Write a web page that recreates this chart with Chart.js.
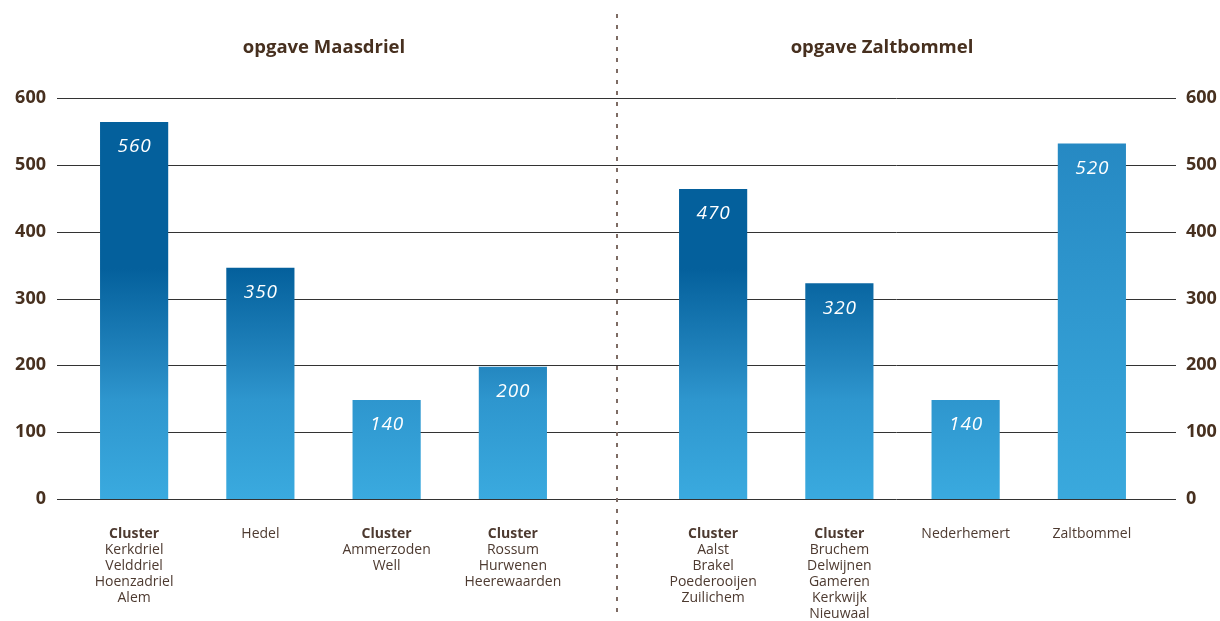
<!DOCTYPE html>
<html>
<head>
<meta charset="utf-8">
<script src="https://cdn.jsdelivr.net/npm/chart.js@4.4.1/dist/chart.umd.min.js"></script>
<style>
  html, body { margin: 0; background: #fff; }
  #wrap { position: relative; width: 1220px; height: 621px; overflow: hidden; }
  canvas { position: absolute; top: 0; }
  #maasdriel { left: 0; }
  #zaltbommel { left: 617px; }
  .title {
    position: absolute; top: 33px; line-height: 20px;
    font: 700 18.5px "Open Sans", sans-serif; color: #47301f;
    transform: translateX(-50%); white-space: nowrap;
  }
  #divider {
    position: absolute; left: 616px; top: 14px; width: 2px; height: 603px;
    background: repeating-linear-gradient(to bottom, #7d6b64 0 4px, transparent 4px 11px);
  }
</style>
</head>
<body>
<div id="wrap">
  <canvas id="maasdriel" width="617" height="621"></canvas>
  <canvas id="zaltbommel" width="603" height="621"></canvas>
  <div class="title" style="left:324px">opgave Maasdriel</div>
  <div class="title" style="left:882px">opgave Zaltbommel</div>
  <div id="divider"></div>
</div>
<script>
const yTicks = [0, 100, 200, 300, 400, 500, 600]

const maasdrielLabels = [
  ["Cluster", "Kerkdriel", "Velddriel", "Hoenzadriel", "Alem"],
  ["Hedel"],
  ["Cluster", "Ammerzoden", "Well"],
  ["Cluster", "Rossum", "Hurwenen", "Heerewaarden"]
]
const maasdrielValues = [564, 346, 148, 198]
const maasdrielValueLabels = ["560", "350", "140", "200"]

const zaltbommelLabels = [
  ["Cluster", "Aalst", "Brakel", "Poederooijen", "Zuilichem"],
  ["Cluster", "Bruchem", "Delwijnen", "Gameren", "Kerkwijk", "Nieuwaal"],
  ["Nederhemert"],
  ["Zaltbommel"]
]
const zaltbommelValues = [464, 323, 148, 532]
const zaltbommelValueLabels = ["470", "320", "140", "520"]

const TEXT = "#47301f"
const FONT = "'Open Sans', sans-serif"

// the main town bar is lighter than the cluster bars
function barFill(context) {
  const chart = context.chart
  const area = chart.chartArea
  if (!area) return "#1b7cb8"
  const y = chart.scales.y
  const label = chart.data.labels[context.dataIndex]
  if (label.length === 1 && label[0] === "Zaltbommel") {
    const g2 = chart.ctx.createLinearGradient(0, area.bottom, 0, y.getPixelForValue(context.raw))
    g2.addColorStop(0, "#3aa9dd")
    g2.addColorStop(1, "#2689c3")
    return g2
  }
  const g = chart.ctx.createLinearGradient(0, area.bottom, 0, y.getPixelForValue(345))
  g.addColorStop(0, "#3aaadf")
  g.addColorStop(0.43, "#2e96ce")
  g.addColorStop(0.57, "#2487c0")
  g.addColorStop(1, "#04609c")
  return g
}

const gridLines = {
  id: "gridLines",
  beforeDatasetsDraw(chart, args, opts) {
    const { ctx } = chart
    const y = chart.scales.y
    ctx.save()
    ctx.strokeStyle = "#333333"
    ctx.lineWidth = 1
    y.ticks.forEach((t) => {
      const py = Math.round(y.getPixelForValue(t.value)) + 0.5
      ctx.beginPath()
      ctx.moveTo(opts.from, py)
      ctx.lineTo(opts.to, py)
      ctx.stroke()
    })
    ctx.restore()
  }
}

const barTexts = {
  id: "barTexts",
  afterDatasetsDraw(chart, args, opts) {
    const { ctx } = chart
    const meta = chart.getDatasetMeta(0)
    ctx.save()
    ctx.textAlign = "center"
    ctx.textBaseline = "middle"
    // value inside the top of each bar
    ctx.fillStyle = "#ffffff"
    ctx.font = `italic 19px ${FONT}`
    ctx.letterSpacing = "1px"
    meta.data.forEach((bar, i) => {
      ctx.fillText(opts.values[i], bar.x + 0.5, bar.y + 25)
    })
    ctx.letterSpacing = "0px"
    // category names under the axis
    ctx.fillStyle = "#4d3a30"
    chart.data.labels.forEach((lines, i) => {
      const x = chart.scales.x.getPixelForValue(i)
      lines.forEach((line, j) => {
        ctx.font = (line === "Cluster" ? "700 " : "400 ") + `14px ${FONT}`
        ctx.fillText(line, x, chart.chartArea.bottom + 35 + j * 16)
      })
    })
    ctx.restore()
  }
}

function makeChart(id, labels, values, valueLabels, side) {
  const left = side === "left"
  return new Chart(document.getElementById(id), {
    type: "bar",
    data: {
      labels,
      datasets: [{
        data: values,
        backgroundColor: barFill,
        borderWidth: 0,
        categoryPercentage: 1,
        barPercentage: 0.54
      }]
    },
    options: {
      responsive: false,
      animation: false,
      devicePixelRatio: 1,
      layout: { padding: { top: 98, bottom: 122, left: left ? 0 : 33, right: left ? 41 : 0 } },
      scales: {
        x: { display: false },
        y: {
          position: side,
          min: 0,
          max: 600,
          afterBuildTicks: (scale) => { scale.ticks = yTicks.map((v) => ({ value: v })) },
          afterFit: (scale) => { scale.width = left ? 71 : 65 },
          grid: { display: false, drawTicks: false },
          border: { display: false },
          ticks: {
            padding: left ? 25 : 31,
            color: TEXT,
            font: { family: FONT, size: 18, weight: "700" }
          }
        }
      },
      plugins: {
        legend: { display: false },
        tooltip: { enabled: false },
        gridLines: left ? { from: 57, to: 617 } : { from: 0, to: 559 },
        barTexts: { values: valueLabels }
      }
    },
    plugins: [gridLines, barTexts]
  })
}

makeChart("maasdriel", maasdrielLabels, maasdrielValues, maasdrielValueLabels, "left")
makeChart("zaltbommel", zaltbommelLabels, zaltbommelValues, zaltbommelValueLabels, "right")
</script>
</body>
</html>
